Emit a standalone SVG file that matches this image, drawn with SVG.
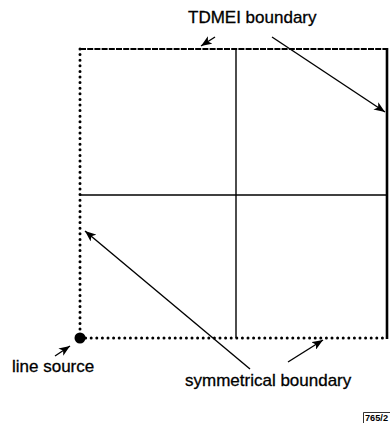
<svg xmlns="http://www.w3.org/2000/svg" width="390" height="428" viewBox="0 0 390 428">
<defs>
<style>
.lbl{font-family:"Liberation Sans",Arial,sans-serif;font-size:17px;fill:#000;stroke:#000;stroke-width:0.3}
.dot{fill:none;stroke:#000;stroke-width:3;stroke-linecap:round;stroke-dasharray:0 5.6}
.arr{fill:none;stroke:#000;stroke-width:1.4}
.grid{fill:none;stroke:#000;stroke-width:1.4}
</style>
<marker id="ah" viewBox="0 0 10 8" refX="10" refY="4" markerWidth="11" markerHeight="9" markerUnits="userSpaceOnUse" orient="auto">
<path d="M0,0 L10,4 L0,8 L2.5,4 Z" fill="#000"/>
</marker>
</defs>
<rect width="390" height="428" fill="#fff"/>
<g id="domain">
<line class="grid" x1="236" y1="49" x2="236" y2="338"/>
<line class="grid" x1="80" y1="195" x2="387" y2="195"/>
<line x1="80" y1="49" x2="387" y2="49" fill="none" stroke="#000" stroke-width="2.2" stroke-dasharray="6 1.2"/>
<line x1="387" y1="48" x2="387" y2="339" fill="none" stroke="#000" stroke-width="2.6"/>
<line class="dot" x1="80" y1="49" x2="80" y2="338"/>
<line class="dot" x1="80" y1="338" x2="387" y2="338"/>
</g>
<g id="line-source">
<circle cx="80" cy="338" r="5.5" fill="#000"/>
<text class="lbl" x="12" y="372">line source</text>
</g>
<g id="tdmei-label">
<text class="lbl" x="188" y="23">TDMEI boundary</text>
</g>
<g id="sym-label">
<text class="lbl" x="185" y="386">symmetrical boundary</text>
</g>
<g id="connectors">
<line class="arr" x1="215" y1="37" x2="201" y2="46" marker-end="url(#ah)"/>
<line class="arr" x1="272" y1="37" x2="385" y2="112" marker-end="url(#ah)"/>
<line class="arr" x1="250" y1="369" x2="85" y2="231" marker-end="url(#ah)"/>
<line class="arr" x1="288" y1="362" x2="323" y2="340" marker-end="url(#ah)"/>
<line class="arr" x1="55" y1="356" x2="70" y2="346" marker-end="url(#ah)"/>
</g>
<g id="tag">
<path d="M363.5,423 V412.5 H390" fill="none" stroke="#000" stroke-width="0.8"/>
<text x="365" y="420.5" font-family="Liberation Sans,Arial,sans-serif" font-size="8.5" font-weight="bold" textLength="23" lengthAdjust="spacingAndGlyphs">765/2</text>
</g>
</svg>
